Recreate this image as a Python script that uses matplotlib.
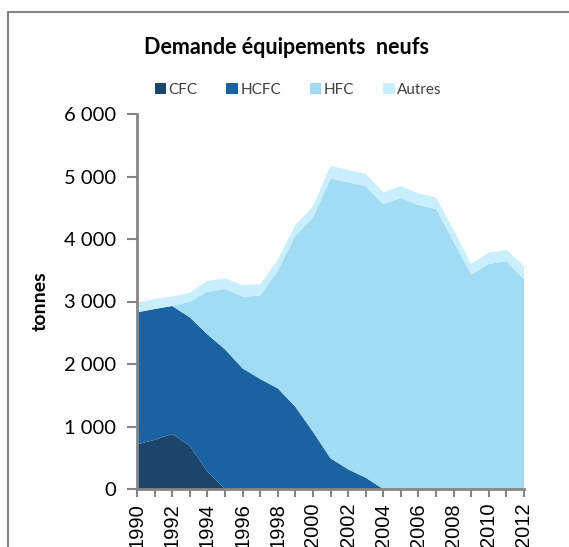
import matplotlib
matplotlib.use("Agg")
import matplotlib.pyplot as plt
import matplotlib.ticker as mticker
from matplotlib.patches import Rectangle
from matplotlib.patches import Patch

years = list(range(1990, 2013))
cfc = [715, 785, 880, 690, 280, 0, 0, 0, 0, 0, 0, 0, 0, 0, 0, 0, 0, 0, 0, 0, 0, 0, 0]
hcfc = [2112, 2095, 2048, 2057, 2195, 2235, 1931, 1760, 1611, 1317, 917, 491, 315, 181,
        0, 0, 0, 0, 0, 0, 0, 0, 0]
hfc = [0, 0, 0, 250, 682, 965, 1146, 1333, 1882, 2736, 3424, 4474, 4592, 4662,
       4560, 4656, 4544, 4480, 3957, 3429, 3600, 3643, 3355]
autres = [154, 160, 149, 144, 171, 171, 187, 182, 171, 171, 176, 208, 197, 197,
          187, 192, 187, 181, 187, 171, 181, 181, 213]

labels = ["CFC", "HCFC", "HFC", "Autres"]
colors = ["#1C456A", "#1A63A0", "#A2DBF4", "#C9EEFC"]

plt.rcParams["font.family"] = ["Lato", "DejaVu Sans"]

fig = plt.figure(figsize=(5.69, 5.47), dpi=100)
ax = fig.add_axes([137 / 569, 58 / 547, 387 / 569, 375 / 547])

ax.stackplot(years, cfc, hcfc, hfc, autres, colors=colors, linewidth=0)

ax.set_xlim(1990, 2012)
ax.set_ylim(0, 6000)
ax.set_yticks(range(0, 6001, 1000))
ax.yaxis.set_major_formatter(mticker.FuncFormatter(
    lambda v, p: f"{int(v):,}".replace(",", " ")))
ax.set_xticks(range(1990, 2013, 2))
ax.set_xticks(range(1990, 2013), minor=True)
for lab in ax.get_xticklabels():
    lab.set_rotation(90)
    lab.set_family("Liberation Sans")
ax.tick_params(axis="x", which="both", labelsize=14.5, length=6, width=1.5,
               color="#868686", pad=4, labelcolor="black")
ax.tick_params(axis="y", labelsize=14.5, length=7, width=1.5, color="#868686",
               pad=8, labelcolor="black")

for s in ["top", "right"]:
    ax.spines[s].set_visible(False)
for s in ["left", "bottom"]:
    ax.spines[s].set_color("#868686")
    ax.spines[s].set_linewidth(2)

ax.set_ylabel("tonnes", fontsize=14, fontweight="bold", labelpad=11)

fig.text(286 / 569, 1 - 47 / 547, "Demande équipements  neufs", ha="center",
         va="center", fontsize=15.5, fontweight="bold")

handles = [Patch(facecolor=c, edgecolor="none") for c in colors]
fig.legend(handles, labels, loc="center", bbox_to_anchor=(298 / 569, 1 - 90 / 547),
           ncol=4, frameon=False, fontsize=11, handlelength=0.75, handleheight=0.75,
           handletextpad=0.15, columnspacing=1.9, labelcolor="#404040")

# outer chart frame (cropped at the right and bottom)
fig.patches.append(Rectangle((8 / 569, -0.1), 1.2, 1 - 12 / 547 + 0.1,
                             transform=fig.transFigure, fill=False,
                             edgecolor="#868686", linewidth=1.5))

fig.savefig("out.png", dpi=100)
